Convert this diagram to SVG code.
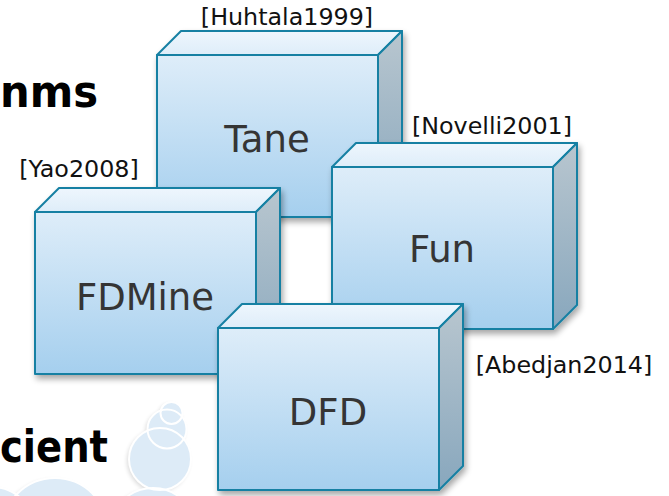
<svg xmlns="http://www.w3.org/2000/svg" xmlns:xlink="http://www.w3.org/1999/xlink" width="669" height="496" viewBox="0 0 669 496">
  <style>
    .ref { font-family: "DejaVu Sans", Verdana, sans-serif; font-size: 23.8px; fill: #111; text-anchor: middle; }
    .name { font-family: "DejaVu Sans", Verdana, sans-serif; font-size: 37px; fill: #353535; text-anchor: middle; }
    .title { font-family: "DejaVu Sans", Verdana, sans-serif; font-weight: bold; fill: #000; }
    .edge { stroke: #1580a3; stroke-width: 2; stroke-linejoin: round; }
    .bubble { fill: #ddebf7; }
    .ring { fill: none; stroke: #ffffff; stroke-width: 2; }
  </style>
  <defs>
    <linearGradient id="front" x1="0" y1="0" x2="0" y2="1">
      <stop offset="0" stop-color="#deedf9"/>
      <stop offset="1" stop-color="#a5cfee"/>
    </linearGradient>
    <linearGradient id="top" x1="0" y1="1" x2="0" y2="0">
      <stop offset="0" stop-color="#deedf9"/>
      <stop offset="1" stop-color="#eef6fd"/>
    </linearGradient>
    <linearGradient id="side" x1="0" y1="0" x2="0" y2="1">
      <stop offset="0" stop-color="#b8c6cf"/>
      <stop offset="1" stop-color="#88a7bd"/>
    </linearGradient>
    <filter id="shadow" x="-10%" y="-10%" width="125%" height="125%">
      <feGaussianBlur in="SourceAlpha" stdDeviation="3"/>
      <feOffset dx="2" dy="4" result="blur"/>
      <feComponentTransfer><feFuncA type="linear" slope="0.35"/></feComponentTransfer>
      <feMerge><feMergeNode/><feMergeNode in="SourceGraphic"/></feMerge>
    </filter>
    <filter id="bubble-shadow" x="-20%" y="-20%" width="140%" height="140%">
      <feGaussianBlur in="SourceAlpha" stdDeviation="2"/>
      <feOffset dx="-2" dy="2"/>
      <feComponentTransfer><feFuncA type="linear" slope="0.15"/></feComponentTransfer>
      <feMerge><feMergeNode/><feMergeNode in="SourceGraphic"/></feMerge>
    </filter>
    <!-- 3D block: front face 221x162, depth 24 -->
    <g id="block">
      <polygon class="edge" fill="url(#top)" points="0,0 24,-24 245,-24 221,0"/>
      <polygon class="edge" fill="url(#side)" points="221,0 245,-24 245,138 221,162"/>
      <rect class="edge" fill="url(#front)" x="0" y="0" width="221" height="162"/>
    </g>
  </defs>

  <rect width="669" height="496" fill="#ffffff"/>

  <!-- slide headings running in from the left edge -->
  <text class="title" x="0" y="107" font-size="44" textLength="98" lengthAdjust="spacingAndGlyphs">nms</text>
  <text class="title" x="0" y="462" font-size="45" textLength="108" lengthAdjust="spacingAndGlyphs">cient</text>

  <!-- bubble decoration -->
  <g id="bubbles" filter="url(#bubble-shadow)">
    <circle class="bubble" cx="55" cy="531" r="53"/>
    <circle class="bubble" cx="-8" cy="530" r="43"/>
    <circle class="bubble" cx="153" cy="531" r="43"/>
    <circle class="bubble" cx="160" cy="459" r="31"/>
    <circle class="bubble" cx="167" cy="429" r="19.5"/>
    <circle class="bubble" cx="171.5" cy="413" r="11"/>
  </g>
  <g id="bubble-rings">
    <circle class="ring" cx="55" cy="531" r="53"/>
    <circle class="ring" cx="-8" cy="530" r="43"/>
    <circle class="ring" cx="153" cy="531" r="43"/>
    <circle class="ring" cx="160" cy="459" r="31"/>
    <circle class="ring" cx="167" cy="429" r="19.5"/>
    <circle class="ring" cx="171.5" cy="413" r="11"/>
  </g>

  <g id="connectors"/>

  <g id="tane">
    <use xlink:href="#block" x="157" y="55" filter="url(#shadow)"/>
    <text class="name" x="267" y="152">Tane</text>
    <text class="ref" x="287" y="25">[Huhtala1999]</text>
  </g>

  <g id="fun">
    <use xlink:href="#block" x="332" y="167" filter="url(#shadow)"/>
    <text class="name" x="442" y="262">Fun</text>
    <text class="ref" x="492" y="134">[Novelli2001]</text>
  </g>

  <g id="fdmine">
    <use xlink:href="#block" x="35" y="212" filter="url(#shadow)"/>
    <text class="name" x="145" y="310">FDMine</text>
    <text class="ref" x="79" y="177">[Yao2008]</text>
  </g>

  <g id="dfd">
    <use xlink:href="#block" x="218" y="328" filter="url(#shadow)"/>
    <text class="name" x="328" y="425">DFD</text>
    <text class="ref" x="564" y="373">[Abedjan2014]</text>
  </g>
</svg>
